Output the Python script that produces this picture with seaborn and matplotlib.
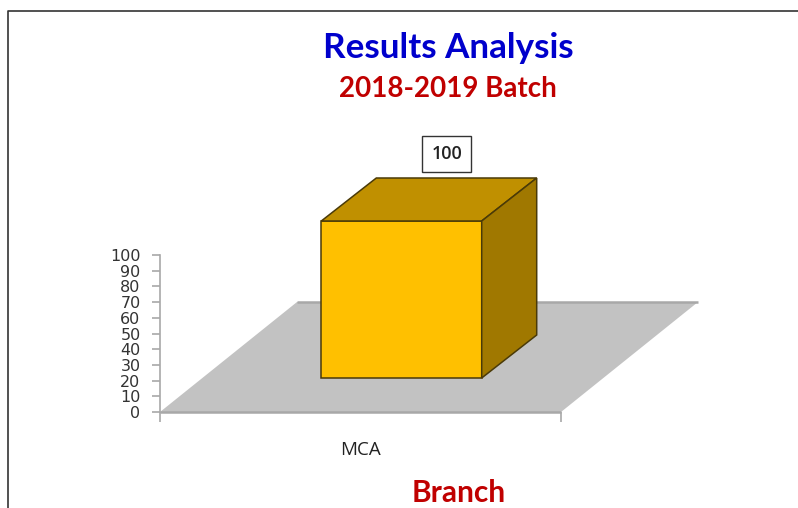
import matplotlib
matplotlib.use("Agg")
import matplotlib.pyplot as plt
import seaborn as sns
from matplotlib.patches import Polygon
from matplotlib.lines import Line2D

branches = ["MCA"]
results = [100]
y_ticks = list(range(0, 101, 10))

W, H = 798, 508
# axes box in pixels (left, right, baseline, top of scale)
X0, X1, Y0, Y1 = 160, 561, 412, 255
px_x = 1 / (X1 - X0)          # data units per pixel along x
px_y = 100 / (Y0 - Y1)        # data units per pixel along y

sns.set_theme(style="white")
plt.rcParams["font.family"] = ["Open Sans", "DejaVu Sans"]

fig = plt.figure(figsize=(W / 100, H / 100), dpi=100)
ax = fig.add_axes([X0 / W, 1 - Y0 / H, (X1 - X0) / W, (Y0 - Y1) / H])

sns.barplot(x=branches, y=results, color="#FFC000", saturation=1, width=0.4,
            edgecolor="#4A3A08", linewidth=1.1, zorder=3, ax=ax)
ax.set_xlim(-0.5, 0.5)
ax.set_ylim(0, 100)

# floor of the fake 3D chart
fdx, fdy = 137 * px_x, 110 * px_y
ax.add_patch(Polygon([(-0.5, 0), (0.5, 0), (0.5 + fdx, fdy), (-0.5 + fdx, fdy)],
                     facecolor="#C2C2C2", edgecolor="none", clip_on=False, zorder=1))
ax.plot([-0.5, 0.5], [0, 0], color="#A8A8A8", lw=1.8, clip_on=False, zorder=2, solid_capstyle="butt")
ax.plot([-0.5 + fdx, 0.5 + fdx], [fdy, fdy], color="#A8A8A8", lw=1.8, clip_on=False, zorder=2, solid_capstyle="butt")

# move the bar onto the floor and add top and side faces
bar = ax.patches[0]
bar.set_x(bar.get_x() + 41 * px_x)
bar.set_y(bar.get_y() + 34 * px_y)
bar.set_clip_on(False)
left, right = bar.get_x(), bar.get_x() + bar.get_width()
bottom, top = bar.get_y(), bar.get_y() + bar.get_height()
ddx, ddy = 55 * px_x, 43 * px_y
ax.add_patch(Polygon([(left, top), (right, top), (right + ddx, top + ddy), (left + ddx, top + ddy)],
                     facecolor="#C09000", edgecolor="#4A3A08", lw=1.1, clip_on=False, zorder=3))
ax.add_patch(Polygon([(right, bottom), (right, top), (right + ddx, top + ddy), (right + ddx, bottom + ddy)],
                     facecolor="#A07800", edgecolor="#4A3A08", lw=1.1, clip_on=False, zorder=3))

# value label above the bar
ax.annotate(str(results[0]), xy=((left + right) / 2 + ddx, top + ddy), xytext=(-7, 17.5),
            textcoords="offset points", ha="center", va="center", fontsize=13, color="#222222",
            fontweight="semibold", annotation_clip=False,
            bbox=dict(boxstyle="square,pad=0.5", facecolor="white", edgecolor="#333333", lw=1), zorder=5)

# axes
for side in ["top", "right", "bottom"]:
    ax.spines[side].set_visible(False)
ax.spines["left"].set_color("#A8A8A8")
ax.spines["left"].set_linewidth(1.2)
ax.set_yticks(y_ticks)
ax.set_yticklabels(y_ticks, family="DejaVu Sans")
ax.tick_params(axis="y", left=True, length=6, width=1.2, color="#A8A8A8", pad=8,
               labelsize=11.5, labelcolor="#333333")
ax.tick_params(axis="x", bottom=False, pad=15, labelsize=13.5, labelcolor="#222222")
ax.set_xticks([-0.5, 0.5], minor=True)
ax.tick_params(axis="x", which="minor", bottom=True, length=7, width=1.2, color="#A8A8A8")
ax.set_xlabel("")
ax.set_ylabel("")
ax.patch.set_alpha(0)

# titles
fig.text(448 / W, 1 - 48 / H, "Results Analysis", color="#0000CC", fontsize=25.2, family="Lato",
         fontweight="bold", ha="center", va="center")
fig.text(447.5 / W, 1 - 89 / H, "2018-2019 Batch", color="#C00000", fontsize=20, family="Lato",
         fontweight="bold", ha="center", va="center")
fig.text(459 / W, 1 - 493 / H, "Branch", color="#C00000", fontsize=21.5, family="Lato",
         fontweight="bold", ha="center", va="center")

# frame of the pasted picture
fig.add_artist(Line2D([8 / W, 8 / W, 1], [0, 1 - 11 / H, 1 - 11 / H], color="#333333", lw=1.2))

fig.savefig("out.png", dpi=100)
